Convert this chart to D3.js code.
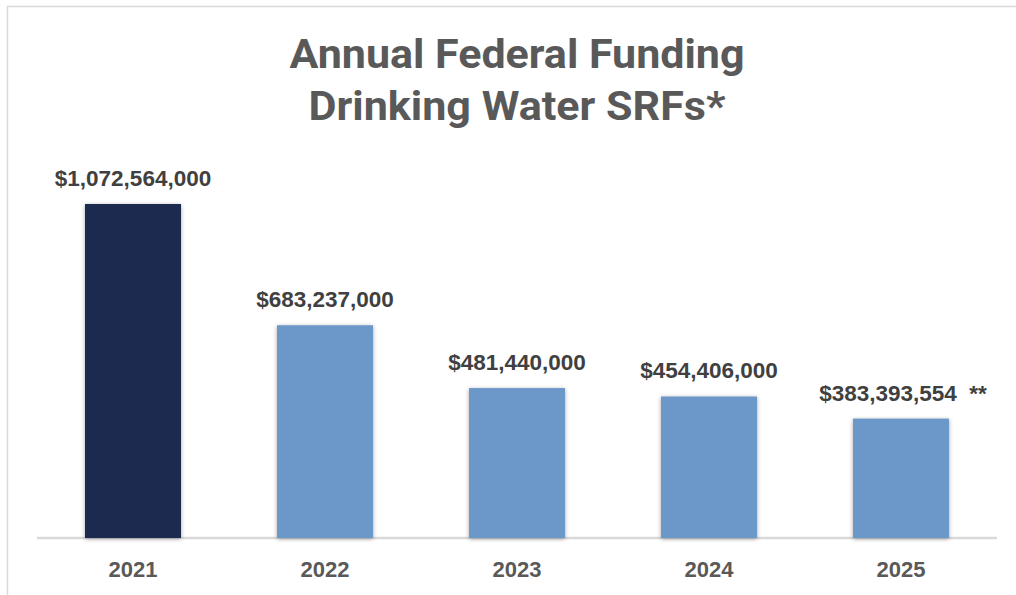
<!DOCTYPE html>
<html><head><meta charset="utf-8">
<script src="https://cdn.jsdelivr.net/npm/d3@7"></script>
<style>body{margin:0;background:#fff;}svg{display:block;}</style>
</head><body>
<svg id="chart" width="1016" height="595"></svg>
<script>
const years = ["2021","2022","2023","2024","2025"];
const values = [1072564000, 683237000, 481440000, 454406000, 383393554];
const labels = ["$1,072,564,000","$683,237,000","$481,440,000","$454,406,000","$383,393,554  **"];
const titleLines = ["Annual Federal Funding","Drinking Water SRFs*"];
const titleWidths = [455, 417];

const svg = d3.select("#chart");
const baseY = 538;
const x = d3.scaleBand().domain(years).range([37, 997]).paddingInner(0.5).paddingOuter(0.25);
const y = d3.scaleLinear().domain([0, 1072564000]).range([baseY, 204]);

const defs = svg.append("defs");
const f = defs.append("filter").attr("id","sh").attr("x","-20%").attr("y","-10%").attr("width","140%").attr("height","120%");
f.append("feDropShadow").attr("dx",0).attr("dy",1).attr("stdDeviation",2.2).attr("flood-color","#000").attr("flood-opacity",0.35);

// frame
svg.append("rect").attr("x",7.5).attr("y",6.5).attr("width",1020).attr("height",600)
  .attr("fill","none").attr("stroke","#d9d9d9").attr("stroke-width",1.5);

// title
svg.append("g").selectAll("text").data(titleLines).join("text")
  .attr("x", 517).attr("y",(d,i)=>68+i*52)
  .attr("text-anchor","middle")
  .attr("font-family","Roboto,'Open Sans',sans-serif")
  .attr("font-weight","bold").attr("font-size",40).attr("fill","#595959")
  .attr("textLength",(d,i)=>titleWidths[i]).attr("lengthAdjust","spacingAndGlyphs")
  .text(d=>d);

// baseline axis
const ax = svg.append("g").attr("transform",`translate(0,${baseY})`)
  .call(d3.axisBottom(x).tickSize(0).tickPadding(0));
ax.select(".domain").attr("stroke","#d9d9d9").attr("stroke-width",2.5).attr("d","M37,0H997");
ax.selectAll(".tick text").attr("y",39).attr("dy",0)
  .attr("font-family","'Liberation Sans',Arial,sans-serif").attr("font-weight","bold")
  .attr("font-size",22).attr("fill","#595959");

// bars
svg.append("g").selectAll("rect").data(years).join("rect")
  .attr("x",d=>x(d)).attr("width",x.bandwidth())
  .attr("y",(d,i)=>y(values[i])).attr("height",(d,i)=>baseY - y(values[i]))
  .attr("fill",(d,i)=>i===0?"#1a2b50":"#6c97c9")
  .attr("filter","url(#sh)");

// labels
svg.append("g").selectAll("text").data(years).join("text")
  .attr("x",(d,i)=>x(d)+x.bandwidth()/2 + (i===4?2:0))
  .attr("y",(d,i)=>y(values[i]) - 18)
  .attr("text-anchor","middle")
  .attr("font-family","'Liberation Sans',Arial,sans-serif").attr("font-weight","bold")
  .attr("font-size",22.5).attr("fill","#404040")
  .attr("xml:space","preserve").style("white-space","pre")
  .text((d,i)=>labels[i]);
</script>
</body></html>
